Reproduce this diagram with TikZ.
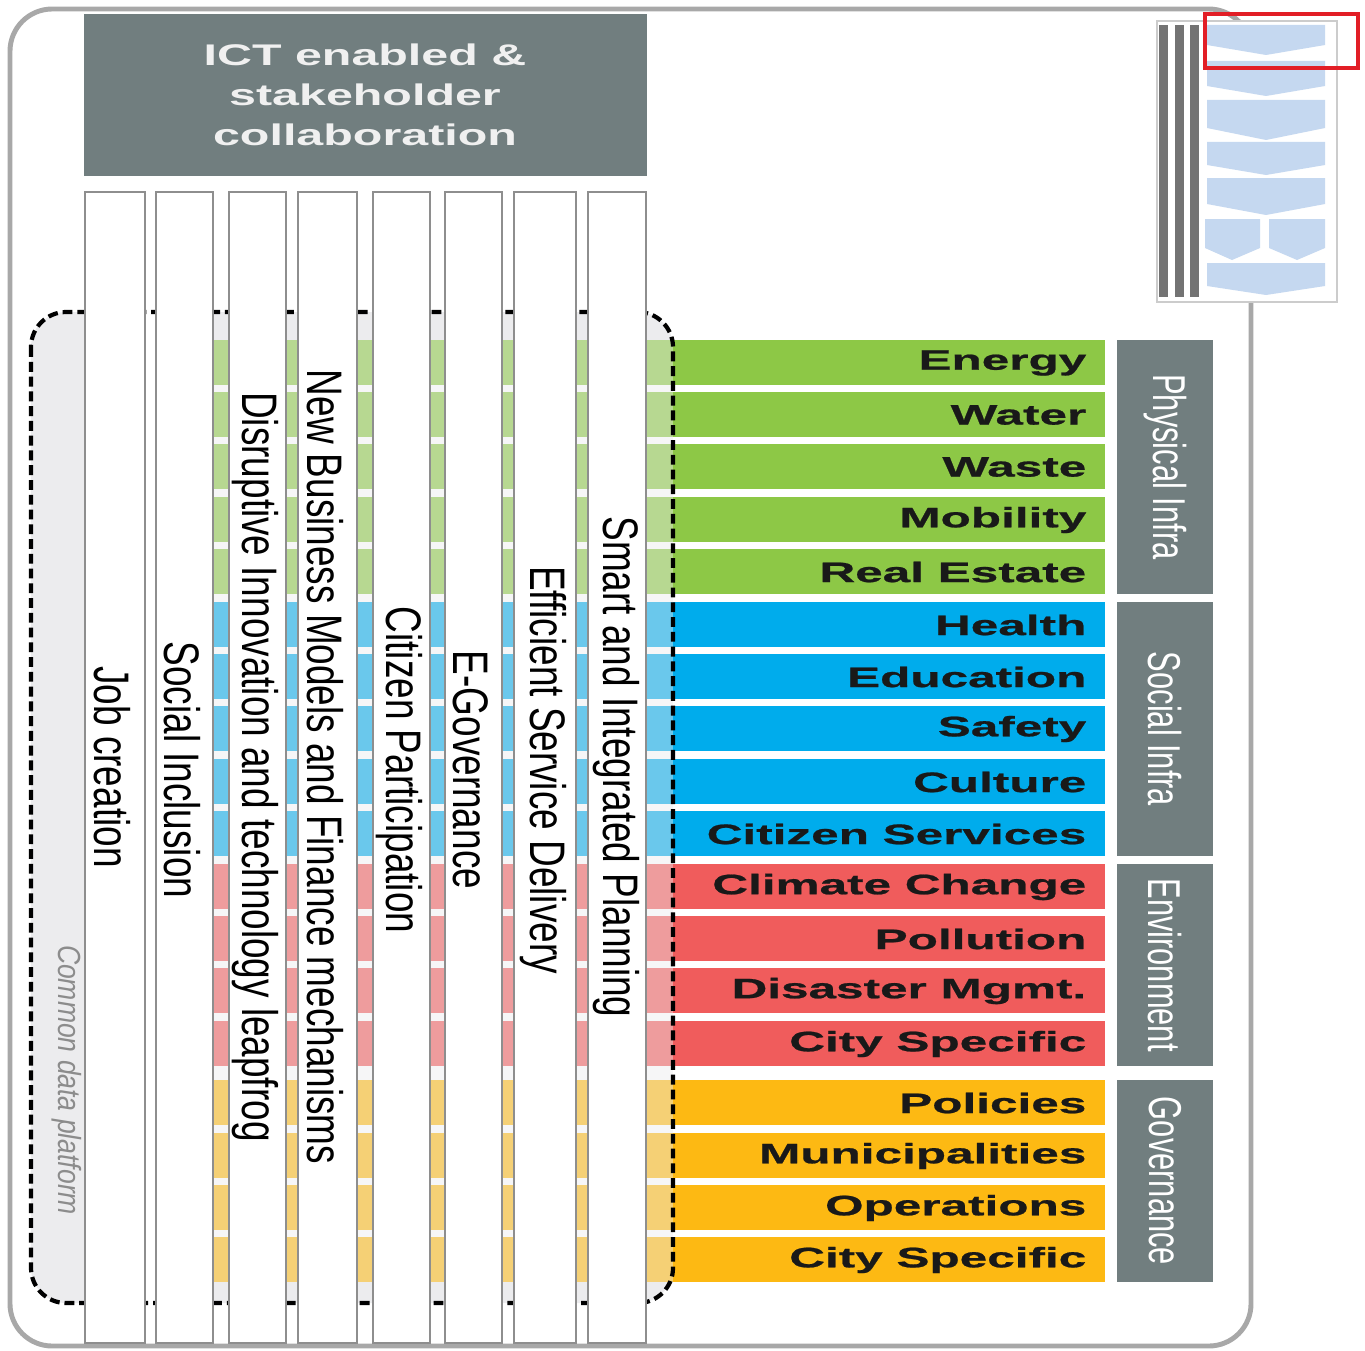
\documentclass[tikz,border=0pt]{standalone}
\usepackage{fontspec}
\setmainfont{Liberation Sans}
\newfontfamily\headfont[FakeStretch=1.62]{Liberation Sans}
\newfontfamily\rowfont[FakeStretch=1.76, BoldFeatures={FakeBold=0.8}]{Liberation Sans}
\newfontfamily\barfont[FakeStretch=0.74]{Liberation Sans}
\newfontfamily\groupfont[FakeStretch=0.67]{Liberation Sans}
\newfontfamily\platfont[FakeStretch=0.83]{Liberation Sans}

\definecolor{framegray}{RGB}{168,168,168}
\definecolor{headgray}{RGB}{113,126,127}
\definecolor{bargray}{RGB}{142,142,142}
\definecolor{platgray}{RGB}{236,236,238}
\definecolor{rowgreen}{RGB}{141,200,70}
\definecolor{rowblue}{RGB}{0,172,236}
\definecolor{rowred}{RGB}{240,92,92}
\definecolor{rowyellow}{RGB}{253,185,19}
\definecolor{thumbblue}{RGB}{197,216,240}
\definecolor{markred}{RGB}{226,30,38}

\tikzset{
	bar/.style={draw=bargray, fill=white, line width=0.6pt},
	bartext/.style={rotate=-90, inner sep=0pt, font=\barfont\fontsize{14.2}{16}\selectfont},
	rowtext/.style={anchor=east, inner sep=0pt, text=black!90, font=\rowfont\bfseries\fontsize{8}{9}\selectfont},
	grouptext/.style={rotate=-90, inner sep=0pt, text=white, font=\groupfont\fontsize{13.1}{15}\selectfont},
	platline/.style={line width=1.2pt, dash pattern=on 2.8pt off 1.4pt, rounded corners=10pt}
}

\begin{document}
\begin{tikzpicture}[x=0.1mm, y=-0.1mm]

		\useasboundingbox (0,0) rectangle (1365,1350);

		% outer frame
		\draw[framegray, line width=1.4pt, rounded corners=12pt] (10,9) rectangle (1251,1346);

		% common data platform
		\fill[platgray, rounded corners=10pt] (31,312) rectangle (673,1303);
		\fill[white] (145,312) rectangle (156,1303);
		\fill[white] (213,340) rectangle (1105,1282);

		% rows
		\fill[rowgreen] (213,340) rectangle (1105,385);
		\fill[rowgreen] (213,392) rectangle (1105,437);
		\fill[rowgreen] (213,444) rectangle (1105,489);
		\fill[rowgreen] (213,497) rectangle (1105,542);
		\fill[rowgreen] (213,549) rectangle (1105,594);
		\fill[rowblue] (213,602) rectangle (1105,647);
		\fill[rowblue] (213,654) rectangle (1105,699);
		\fill[rowblue] (213,706) rectangle (1105,751);
		\fill[rowblue] (213,759) rectangle (1105,804);
		\fill[rowblue] (213,811) rectangle (1105,856);
		\fill[rowred] (213,864) rectangle (1105,909);
		\fill[rowred] (213,916) rectangle (1105,961);
		\fill[rowred] (213,968) rectangle (1105,1013);
		\fill[rowred] (213,1021) rectangle (1105,1066);
		\fill[rowyellow] (213,1080) rectangle (1105,1125);
		\fill[rowyellow] (213,1133) rectangle (1105,1178);
		\fill[rowyellow] (213,1185) rectangle (1105,1230);
		\fill[rowyellow] (213,1237) rectangle (1105,1282);
			\fill[platgray, opacity=0.45] (213,340) rectangle (673,1282);

		\node[rowtext] (energy) at (1087,363){Energy};
		\node[rowtext] (water) at (1087,415){Water};
		\node[rowtext] (waste) at (1087,467){Waste};
		\node[rowtext] (mobility) at (1087,520){Mobility};
		\node[rowtext] (realestate) at (1087,572){Real Estate};
		\node[rowtext] (health) at (1087,625){Health};
		\node[rowtext] (education) at (1087,677){Education};
		\node[rowtext] (safety) at (1087,729){Safety};
		\node[rowtext] (culture) at (1087,782){Culture};
		\node[rowtext] (citizenserv) at (1087,834){Citizen Services};
		\node[rowtext] (climate) at (1087,887){Climate Change};
		\node[rowtext] (pollution) at (1087,939){Pollution};
		\node[rowtext] (disaster) at (1087,991){Disaster Mgmt.};
		\node[rowtext] (cityenv) at (1087,1044){City Specific};
		\node[rowtext] (policies) at (1087,1103){Policies};
		\node[rowtext] (municip) at (1087,1156){Municipalities};
		\node[rowtext] (operations) at (1087,1208){Operations};
		\node[rowtext] (citygov) at (1087,1260){City Specific};

		\draw[platline] (31,312) rectangle (673,1303);

		% vertical bars
		\draw[bar] (85,192) rectangle (145,1343);
		\draw[bar] (156,192) rectangle (213,1343);
		\draw[bar] (229,192) rectangle (286,1343);
		\draw[bar] (298,192) rectangle (357,1343);
		\draw[bar] (373,192) rectangle (430,1343);
		\draw[bar] (445,192) rectangle (502,1343);
		\draw[bar] (514,192) rectangle (576,1343);
		\draw[bar] (588,192) rectangle (646,1343);

		\node[bartext] (jobs) at (112,767){Job creation};
		\node[bartext] (inclusion) at (182,770){Social Inclusion};
		\node[bartext] (disruptive) at (255,767){Disruptive Innovation and technology leapfrog};
		\node[bartext] (business) at (325,767){New Business Models and Finance mechanisms};
		\node[bartext] (participation) at (399,770){Citizen Participation};
		\node[bartext] (egov) at (471,770){E-Governance};
		\node[bartext] (delivery) at (543,770){Efficient Service Delivery};
		\node[bartext] (planning) at (616,767){Smart and Integrated Planning};

		\node[rotate=-90, inner sep=0pt, text=black!45, font=\platfont\itshape\fontsize{9.1}{11}\selectfont] (platform) at (67,1080){Common data platform};

		% header
		\fill[headgray] (84,14) rectangle (647,176);
		\node[align=center, text=white!94!black, font=\headfont\bfseries\fontsize{8.5}{11.4}\selectfont] (ict) at (365,95){ICT enabled \&\\stakeholder\\collaboration};

		% groups
		\fill[headgray] (1117,340) rectangle (1213,594);
		\fill[headgray] (1117,602) rectangle (1213,856);
		\fill[headgray] (1117,864) rectangle (1213,1066);
		\fill[headgray] (1117,1080) rectangle (1213,1282);
		\node[grouptext] (physical) at (1165,467){Physical Infra};
		\node[grouptext] (social) at (1165,729){Social Infra};
		\node[grouptext] (environment) at (1165,965){Environment};
		\node[grouptext] (governance) at (1165,1181){Governance};

		% thumbnail
		\draw[fill=white, draw=black!20, line width=0.5pt] (1157,21) rectangle (1337,302);
			\fill[black!55] (1159,25) rectangle (1168,297);
			\fill[black!55] (1175,25) rectangle (1184,297);
			\fill[black!55] (1190,25) rectangle (1199,297);
			\fill[thumbblue] (1207,25) -- (1325,25) -- (1325,45) -- (1266,55) -- (1207,45) -- cycle;
			\fill[thumbblue] (1207,61) -- (1325,61) -- (1325,86) -- (1266,96) -- (1207,86) -- cycle;
			\fill[thumbblue] (1207,100) -- (1325,100) -- (1325,128) -- (1266,140) -- (1207,128) -- cycle;
			\fill[thumbblue] (1207,142) -- (1325,142) -- (1325,165) -- (1266,175) -- (1207,165) -- cycle;
			\fill[thumbblue] (1207,178) -- (1325,178) -- (1325,204) -- (1266,215) -- (1207,204) -- cycle;
			\fill[thumbblue] (1205,219) -- (1260,219) -- (1260,248) -- (1232,260) -- (1205,248) -- cycle;
			\fill[thumbblue] (1269,219) -- (1325,219) -- (1325,248) -- (1297,260) -- (1269,248) -- cycle;
			\fill[thumbblue] (1207,263) -- (1325,263) -- (1325,286) -- (1266,295) -- (1207,286) -- cycle;
		\draw[markred, line width=1.2pt] (1205,14) rectangle (1358,68);

	\end{tikzpicture}
\end{document}
